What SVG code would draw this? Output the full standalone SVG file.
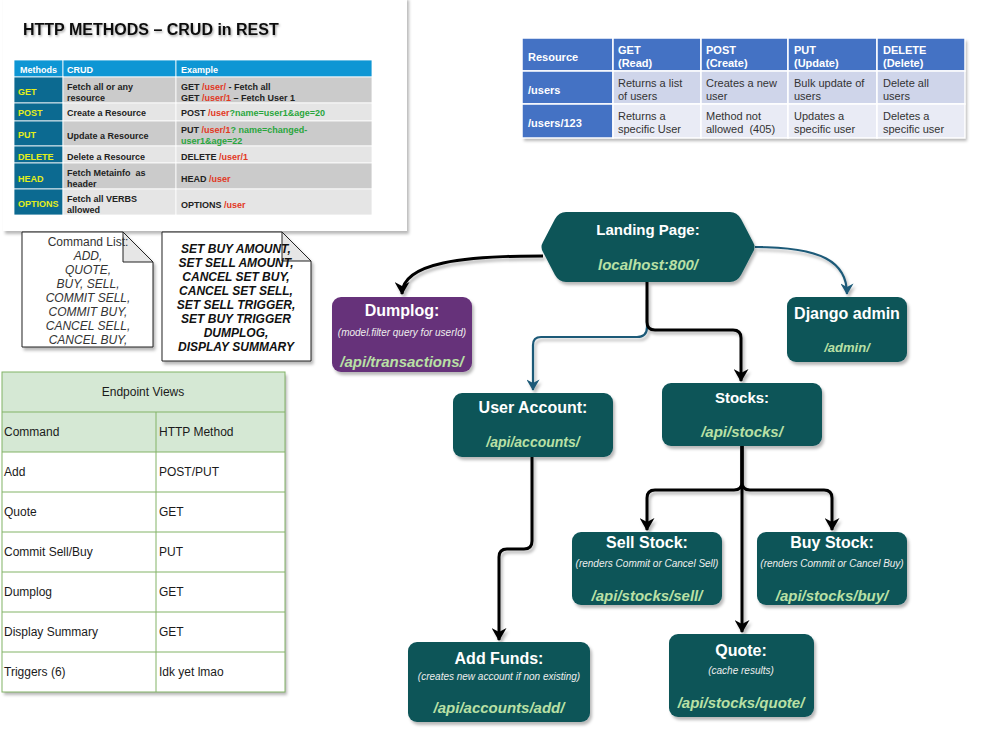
<svg xmlns="http://www.w3.org/2000/svg" width="981" height="737" viewBox="0 0 981 737">
<style>
text{font-family:"Liberation Sans",Arial,sans-serif}
.tb{font-size:9px;font-weight:bold;fill:#222}
.my{font-size:9px;font-weight:bold;fill:#e4ef1a}
.red{fill:#e2381f}
.grn{fill:#2aa63d}
.rh{font-size:11px;font-weight:bold;fill:#fff}
.rc{font-size:11px;fill:#333}
.n1{font-size:12px;fill:#333;text-anchor:middle}
.n2{font-size:12px;font-weight:bold;font-style:italic;fill:#111;text-anchor:middle}
.ev{font-size:12px;fill:#1a1a1a}
.nd{fill:#0d5459}
.ttl{font-size:16px;font-weight:bold;fill:#fff;text-anchor:middle}
.sub{font-size:10px;font-style:italic;fill:#eee;text-anchor:middle}
.pth{font-size:15px;font-weight:bold;font-style:italic;fill:#b9e0a5;text-anchor:middle}
.cb{fill:none;stroke:#000;stroke-width:3}
.cu{fill:none;stroke:#1d5a78;stroke-width:2.2}
</style>
<defs>
<filter id="sh" x="-10%" y="-10%" width="130%" height="140%"><feDropShadow dx="2" dy="3" stdDeviation="1.5" flood-color="#000" flood-opacity="0.28"/></filter>
<filter id="tsh" x="-5%" y="-30%" width="110%" height="160%"><feDropShadow dx="1" dy="1.5" stdDeviation="1" flood-color="#000" flood-opacity="0.35"/></filter>
<marker id="ab" viewBox="0 0 13 15" refX="12" refY="7.5" markerWidth="13" markerHeight="15" markerUnits="userSpaceOnUse" orient="auto"><path d="M0,0 L13,7.5 L0,15 L4,7.5 z" fill="#000"/></marker>
<marker id="au" viewBox="0 0 13 15" refX="12" refY="7.5" markerWidth="12" markerHeight="13" markerUnits="userSpaceOnUse" orient="auto"><path d="M0,0 L13,7.5 L0,15 L4,7.5 z" fill="#1d5a78"/></marker>
</defs>
<rect width="981" height="737" fill="#fff"/>

<!-- HTTP methods image -->
<g id="http-methods">
<rect x="3" y="-3" width="404" height="234" fill="#fff" filter="url(#sh)"/>
<text x="23" y="35" font-size="16" font-weight="bold" fill="#111" filter="url(#tsh)">HTTP METHODS – CRUD in REST</text>
<g stroke="#fff" stroke-width="0.8">
<rect x="14" y="60" width="49" height="17" fill="#0e96d4"/>
<rect x="63" y="60" width="113" height="17" fill="#0e96d4"/>
<rect x="176" y="60" width="196" height="17" fill="#0e96d4"/>
<rect x="14" y="77" width="49" height="26" fill="#0c6a91"/>
<rect x="63" y="77" width="113" height="26" fill="#cbcbcb"/>
<rect x="176" y="77" width="196" height="26" fill="#cbcbcb"/>
<rect x="14" y="103" width="49" height="18" fill="#0c6a91"/>
<rect x="63" y="103" width="113" height="18" fill="#e5e5e5"/>
<rect x="176" y="103" width="196" height="18" fill="#e5e5e5"/>
<rect x="14" y="121" width="49" height="25" fill="#0c6a91"/>
<rect x="63" y="121" width="113" height="25" fill="#cbcbcb"/>
<rect x="176" y="121" width="196" height="25" fill="#cbcbcb"/>
<rect x="14" y="146" width="49" height="17" fill="#0c6a91"/>
<rect x="63" y="146" width="113" height="17" fill="#e5e5e5"/>
<rect x="176" y="146" width="196" height="17" fill="#e5e5e5"/>
<rect x="14" y="163" width="49" height="26" fill="#0c6a91"/>
<rect x="63" y="163" width="113" height="26" fill="#cbcbcb"/>
<rect x="176" y="163" width="196" height="26" fill="#cbcbcb"/>
<rect x="14" y="189" width="49" height="26" fill="#0c6a91"/>
<rect x="63" y="189" width="113" height="26" fill="#e5e5e5"/>
<rect x="176" y="189" width="196" height="26" fill="#e5e5e5"/>
</g>
<text class="tb" x="20" y="73" style="fill:#fff">Methods</text>
<text class="tb" x="67" y="73" style="fill:#fff">CRUD</text>
<text class="tb" x="181" y="73" style="fill:#fff">Example</text>
<text class="my" x="18" y="95">GET</text>
<text class="my" x="18" y="116">POST</text>
<text class="my" x="18" y="138">PUT</text>
<text class="my" x="18" y="160">DELETE</text>
<text class="my" x="18" y="182">HEAD</text>
<text class="my" x="18" y="207">OPTIONS</text>
<text class="tb" x="67" y="90">Fetch all or any</text>
<text class="tb" x="67" y="101">resource</text>
<text class="tb" x="67" y="116">Create a Resource</text>
<text class="tb" x="67" y="139">Update a Resource</text>
<text class="tb" x="67" y="160">Delete a Resource</text>
<text class="tb" x="67" y="176" xml:space="preserve">Fetch Metainfo  as</text>
<text class="tb" x="67" y="187">header</text>
<text class="tb" x="67" y="202">Fetch all VERBS</text>
<text class="tb" x="67" y="213">allowed</text>
<text class="tb" x="181" y="90">GET <tspan class="red">/user/</tspan> - Fetch all</text>
<text class="tb" x="181" y="101">GET <tspan class="red">/user/1</tspan> – Fetch User 1</text>
<text class="tb" x="181" y="116">POST <tspan class="red">/user</tspan><tspan class="grn">?name=user1&amp;age=20</tspan></text>
<text class="tb" x="181" y="133">PUT <tspan class="red">/user/1</tspan><tspan class="grn">? name=changed-</tspan></text>
<text class="tb" x="181" y="144"><tspan class="grn">user1&amp;age=22</tspan></text>
<text class="tb" x="181" y="160">DELETE <tspan class="red">/user/1</tspan></text>
<text class="tb" x="181" y="182">HEAD <tspan class="red">/user</tspan></text>
<text class="tb" x="181" y="208">OPTIONS <tspan class="red">/user</tspan></text>
</g>

<!-- Resource table -->
<g id="resource-table">
<rect x="522" y="38" width="443" height="100" fill="#fff" filter="url(#sh)"/>
<g stroke="#fff" stroke-width="1.5">
<rect x="522" y="38" width="91" height="33" fill="#4472c4"/>
<rect x="613" y="38" width="88" height="33" fill="#4472c4"/>
<rect x="701" y="38" width="87" height="33" fill="#4472c4"/>
<rect x="788" y="38" width="89" height="33" fill="#4472c4"/>
<rect x="877" y="38" width="88" height="33" fill="#4472c4"/>
<rect x="522" y="71" width="91" height="33" fill="#4472c4"/>
<rect x="613" y="71" width="88" height="33" fill="#cfd5ea"/>
<rect x="701" y="71" width="87" height="33" fill="#cfd5ea"/>
<rect x="788" y="71" width="89" height="33" fill="#cfd5ea"/>
<rect x="877" y="71" width="88" height="33" fill="#cfd5ea"/>
<rect x="522" y="104" width="91" height="34" fill="#4472c4"/>
<rect x="613" y="104" width="88" height="34" fill="#e9ebf5"/>
<rect x="701" y="104" width="87" height="34" fill="#e9ebf5"/>
<rect x="788" y="104" width="89" height="34" fill="#e9ebf5"/>
<rect x="877" y="104" width="88" height="34" fill="#e9ebf5"/>
</g>
<text class="rh" x="528" y="61">Resource</text>
<text class="rh" x="618" y="54">GET</text><text class="rh" x="618" y="67">(Read)</text>
<text class="rh" x="706" y="54">POST</text><text class="rh" x="706" y="67">(Create)</text>
<text class="rh" x="794" y="54">PUT</text><text class="rh" x="794" y="67">(Update)</text>
<text class="rh" x="883" y="54">DELETE</text><text class="rh" x="883" y="67">(Delete)</text>
<text class="rh" x="528" y="94">/users</text>
<text class="rh" x="528" y="127">/users/123</text>
<text class="rc" x="618" y="87">Returns a list</text><text class="rc" x="618" y="100">of users</text>
<text class="rc" x="706" y="87">Creates a new</text><text class="rc" x="706" y="100">user</text>
<text class="rc" x="794" y="87">Bulk update of</text><text class="rc" x="794" y="100">users</text>
<text class="rc" x="883" y="87">Delete all</text><text class="rc" x="883" y="100">users</text>
<text class="rc" x="618" y="120">Returns a</text><text class="rc" x="618" y="133">specific User</text>
<text class="rc" x="706" y="120">Method not</text><text class="rc" x="706" y="133" xml:space="preserve">allowed  (405)</text>
<text class="rc" x="794" y="120">Updates a</text><text class="rc" x="794" y="133">specific user</text>
<text class="rc" x="883" y="120">Deletes a</text><text class="rc" x="883" y="133">specific user</text>
</g>

<!-- Notes -->
<g id="note-commands">
<path d="M22,232 L123,232 L153,262 L153,347 L22,347 Z" fill="#fff" stroke="#222" stroke-width="1" filter="url(#sh)"/>
<path d="M123,232 L123,262 L153,262 Z" fill="#e6e6e6" stroke="#222" stroke-width="1"/>
<text class="n1" x="88" y="246">Command List:</text>
<g font-style="italic">
<text class="n1" x="88" y="260">ADD,</text>
<text class="n1" x="88" y="274">QUOTE,</text>
<text class="n1" x="88" y="288">BUY, SELL,</text>
<text class="n1" x="88" y="302">COMMIT SELL,</text>
<text class="n1" x="88" y="316">COMMIT BUY,</text>
<text class="n1" x="88" y="330">CANCEL SELL,</text>
<text class="n1" x="88" y="344">CANCEL BUY,</text>
</g>
</g>
<g id="note-commands-2">
<path d="M162,232 L282,232 L311,261 L311,361 L162,361 Z" fill="#fff" stroke="#222" stroke-width="1" filter="url(#sh)"/>
<path d="M282,232 L282,261 L311,261 Z" fill="#e6e6e6" stroke="#222" stroke-width="1"/>
<text class="n2" x="236" y="253">SET BUY AMOUNT,</text>
<text class="n2" x="236" y="267">SET SELL AMOUNT,</text>
<text class="n2" x="236" y="281">CANCEL SET BUY,</text>
<text class="n2" x="236" y="295">CANCEL SET SELL,</text>
<text class="n2" x="236" y="309">SET SELL TRIGGER,</text>
<text class="n2" x="236" y="323">SET BUY TRIGGER</text>
<text class="n2" x="236" y="337">DUMPLOG,</text>
<text class="n2" x="236" y="351">DISPLAY SUMMARY</text>
</g>

<!-- Endpoint views table -->
<g id="endpoint-views">
<rect x="2" y="372" width="283" height="320" fill="#fff" filter="url(#sh)"/>
<rect x="2" y="372" width="283" height="80" fill="#d5e8d4"/>
<g fill="none" stroke="#82b366" stroke-width="1">
<rect x="2" y="372" width="283" height="320"/>
<path d="M2,412 H285 M2,452 H285 M2,492 H285 M2,532 H285 M2,572 H285 M2,612 H285 M2,652 H285 M156,412 V692"/>
</g>
<text class="ev" x="143" y="396" text-anchor="middle">Endpoint Views</text>
<text class="ev" x="4" y="436">Command</text>
<text class="ev" x="159" y="436">HTTP Method</text>
<text class="ev" x="4" y="476">Add</text><text class="ev" x="159" y="476">POST/PUT</text>
<text class="ev" x="4" y="516">Quote</text><text class="ev" x="159" y="516">GET</text>
<text class="ev" x="4" y="556">Commit Sell/Buy</text><text class="ev" x="159" y="556">PUT</text>
<text class="ev" x="4" y="596">Dumplog</text><text class="ev" x="159" y="596">GET</text>
<text class="ev" x="4" y="636">Display Summary</text><text class="ev" x="159" y="636">GET</text>
<text class="ev" x="4" y="676">Triggers (6)</text><text class="ev" x="159" y="676">Idk yet lmao</text>
</g>

<!-- Connectors -->
<g id="connectors" filter="url(#sh)">
<path class="cb" d="M543,256 C465,256 402,262 402,294" marker-end="url(#ab)"/>
<path class="cu" d="M755,247 C822,247 847,262 847,294" marker-end="url(#au)"/>
<path class="cu" d="M647,300 L647,327 Q647,337 637,337 L541,337 Q533,337 533,345 L533,390" marker-end="url(#au)"/>
<path class="cb" d="M647,282 L647,322 Q647,330 655,330 L733,330 Q741,330 741,338 L741,381" marker-end="url(#ab)"/>
<path class="cb" d="M742,446 L742,482 Q742,490 734,490 L655,490 Q647,490 647,498 L647,530" marker-end="url(#ab)"/>
<path class="cb" d="M742,446 L742,482 Q742,490 750,490 L824,490 Q832,490 832,498 L832,530" marker-end="url(#ab)"/>
<path class="cb" d="M742,446 L742,632" marker-end="url(#ab)"/>
<path class="cb" d="M532,457 L532,541 Q532,549 524,549 L507,549 Q499,549 499,557 L499,640" marker-end="url(#ab)"/>
</g>

<!-- Nodes -->
<g id="landing-page">
<path class="nd" d="M566,212 L730,212 Q737,212 741,219 L753,242 Q756,247 753,252 L741,275 Q737,282 730,282 L566,282 Q559,282 555,275 L543,252 Q540,247 543,242 L555,219 Q559,212 566,212 Z" filter="url(#sh)"/>
<text class="ttl" x="648" y="235" style="font-size:15px">Landing Page:</text>
<text class="pth" x="648" y="270">localhost:800/</text>
</g>
<g id="dumplog">
<rect x="332" y="297" width="140" height="75" rx="9" fill="#66317a" filter="url(#sh)"/>
<text class="ttl" x="402" y="316">Dumplog:</text>
<text class="sub" x="402" y="336">(model.filter query for userId)</text>
<text class="pth" x="402" y="367">/api/transactions/</text>
</g>
<g id="django-admin">
<rect class="nd" x="787" y="297" width="120" height="65" rx="9" filter="url(#sh)"/>
<text class="ttl" x="847" y="319">Django admin</text>
<text class="pth" x="847" y="352" style="font-size:13px">/admin/</text>
</g>
<g id="user-account">
<rect class="nd" x="453" y="393" width="160" height="64" rx="9" filter="url(#sh)"/>
<text class="ttl" x="533" y="413">User Account:</text>
<text class="pth" x="533" y="447" style="font-size:14px">/api/accounts/</text>
</g>
<g id="stocks">
<rect class="nd" x="662" y="383" width="160" height="63" rx="9" filter="url(#sh)"/>
<text class="ttl" x="742" y="403" style="font-size:15px">Stocks:</text>
<text class="pth" x="742" y="437">/api/stocks/</text>
</g>
<g id="sell-stock">
<rect class="nd" x="572" y="532" width="150" height="73" rx="9" filter="url(#sh)"/>
<text class="ttl" x="647" y="548">Sell Stock:</text>
<text class="sub" x="647" y="567">(renders Commit or Cancel Sell)</text>
<text class="pth" x="647" y="601">/api/stocks/sell/</text>
</g>
<g id="buy-stock">
<rect class="nd" x="757" y="532" width="150" height="73" rx="9" filter="url(#sh)"/>
<text class="ttl" x="832" y="548">Buy Stock:</text>
<text class="sub" x="832" y="567">(renders Commit or Cancel Buy)</text>
<text class="pth" x="832" y="601">/api/stocks/buy/</text>
</g>
<g id="add-funds">
<rect class="nd" x="408" y="642" width="182" height="80" rx="9" filter="url(#sh)"/>
<text class="ttl" x="499" y="664">Add Funds:</text>
<text class="sub" x="499" y="680">(creates new account if non existing)</text>
<text class="pth" x="499" y="713">/api/accounts/add/</text>
</g>
<g id="quote">
<rect class="nd" x="669" y="634" width="145" height="83" rx="9" filter="url(#sh)"/>
<text class="ttl" x="741" y="656">Quote:</text>
<text class="sub" x="741" y="674">(cache results)</text>
<text class="pth" x="741" y="708">/api/stocks/quote/</text>
</g>
</svg>
